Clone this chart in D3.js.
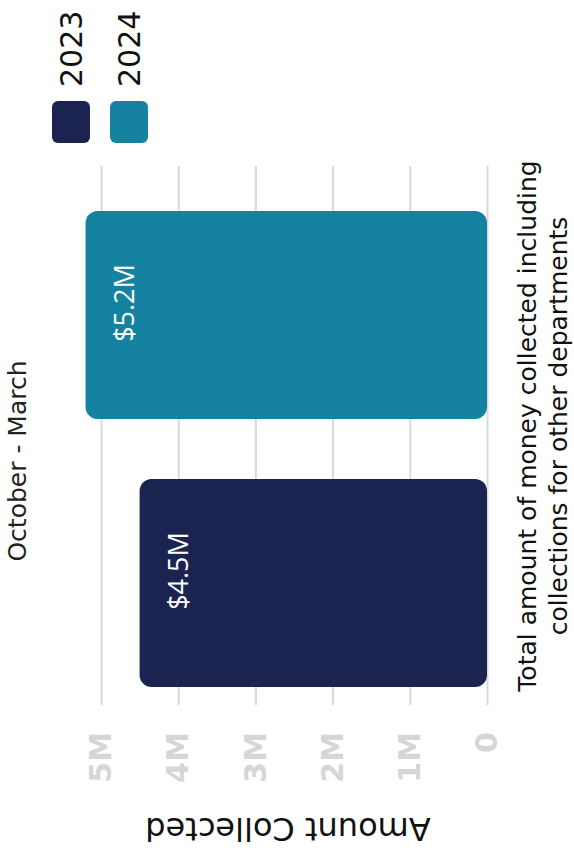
<!DOCTYPE html>
<html>
<head>
<meta charset="utf-8">
<script src="https://cdn.jsdelivr.net/npm/d3@7"></script>
<style>
  html, body { margin: 0; padding: 0; background: #ffffff; }
  svg { display: block; }
</style>
</head>
<body>
<svg id="chart" width="574" height="853"></svg>
<script>
// Chart data
const categoryLines = ["Total amount of money collected including", "collections for other departments"];
const seriesNames = ["2023", "2024"];
const seriesValues = [4.5e6, 5.2e6];
const valueLabels = ["$4.5M", "$5.2M"];
const seriesColors = ["#1b2450", "#1582a1"];
const tickValues = [0, 1e6, 2e6, 3e6, 4e6, 5e6];
const tickLabels = ["0", "1M", "2M", "3M", "4M", "5M"];
const chartTitle = "October - March";
const valueTitle = "Amount Collected";

const FONT = "'DejaVu Sans', sans-serif";
const LABEL_FONT = "'Open Sans', sans-serif";

// The chart is laid out upright (853 wide, 574 tall) and then turned a
// quarter turn counter-clockwise to fit the portrait page.
const frameW = 853;
const svg = d3.select("#chart");
const root = svg.append("g")
  .attr("transform", `translate(0,${frameW}) rotate(-90)`);

const plotLeft = 148, plotRight = 687;

const x = d3.scaleBand()
  .domain(seriesNames)
  .range([136, 672])
  .paddingInner(0.224)
  .paddingOuter(0.112);

const y = d3.scaleLinear()
  .domain([0, 5e6])
  .range([487, 101]);

// Value axis with full-width gridlines
const axis = root.append("g")
  .attr("transform", `translate(${plotLeft},0)`)
  .call(d3.axisLeft(y)
    .tickValues(tickValues)
    .tickSize(-(plotRight - plotLeft))
    .tickPadding(27)
    .tickFormat((d, i) => tickLabels[i]));
axis.select(".domain").remove();
axis.selectAll(".tick line")
  .attr("stroke", "#d9d9d9")
  .attr("stroke-width", 2);
axis.selectAll(".tick text")
  .attr("fill", "#d6d6d6")
  .attr("font-family", FONT)
  .attr("font-weight", "bold")
  .attr("font-size", 30);

// Bars
root.selectAll("rect.bar")
  .data(seriesValues)
  .join("rect")
  .attr("class", "bar")
  .attr("x", (d, i) => x(seriesNames[i]))
  .attr("y", d => y(d))
  .attr("width", x.bandwidth())
  .attr("height", d => y(0) - y(d))
  .attr("rx", 12)
  .attr("fill", (d, i) => seriesColors[i]);

// Value labels inside the bars
root.selectAll("text.value")
  .data(seriesValues)
  .join("text")
  .attr("class", "value")
  .attr("x", (d, i) => x(seriesNames[i]) + x.bandwidth() / 2 + 12)
  .attr("y", d => y(d) + 48)
  .attr("text-anchor", "middle")
  .attr("font-family", LABEL_FONT)
  .attr("font-size", 27)
  .attr("fill", "#ffffff")
  .text((d, i) => valueLabels[i]);

// Category label under the bars
root.append("text")
  .attr("text-anchor", "middle")
  .attr("font-family", FONT)
  .attr("font-size", 25)
  .attr("fill", "#111111")
  .selectAll("tspan")
  .data(categoryLines)
  .join("tspan")
  .attr("x", 427)
  .attr("y", (d, i) => 536 + i * 31)
  .text(d => d);

// Value axis title
root.append("text")
  .attr("transform", "translate(35,288) rotate(-90)")
  .attr("text-anchor", "middle")
  .attr("font-family", FONT)
  .attr("font-size", 32)
  .attr("fill", "#111111")
  .text(valueTitle);

// Chart title
root.append("text")
  .attr("x", 392)
  .attr("y", 26)
  .attr("text-anchor", "middle")
  .attr("font-family", FONT)
  .attr("font-size", 25)
  .attr("fill", "#222222")
  .text(chartTitle);

// Legend
const legend = root.append("g");
const rows = legend.selectAll("g")
  .data(seriesNames)
  .join("g")
  .attr("transform", (d, i) => `translate(710,${52 + i * 58})`);
rows.append("rect")
  .attr("width", 42)
  .attr("height", 38)
  .attr("rx", 6)
  .attr("fill", (d, i) => seriesColors[i]);
rows.append("text")
  .attr("x", 56)
  .attr("y", 19)
  .attr("dominant-baseline", "central")
  .attr("font-family", FONT)
  .attr("font-size", 30)
  .attr("fill", "#111111")
  .text(d => d);
</script>
</body>
</html>
